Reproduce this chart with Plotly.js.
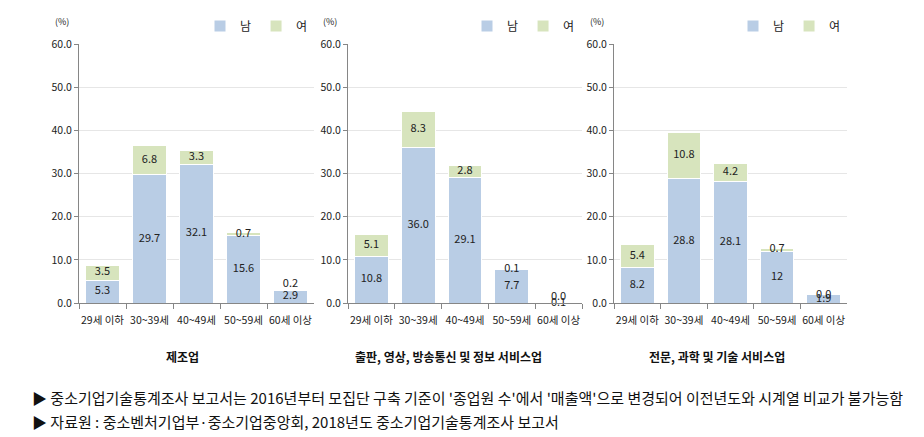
<!DOCTYPE html>
<html>
<head>
<meta charset="utf-8">
<script src="https://cdn.plot.ly/plotly-3.0.1.min.js"></script>
<style>
  body { margin: 0; background: #fff; }
  #chart { width: 924px; height: 437px; }
</style>
</head>
<body>
<div id="chart"></div>
<script>
var ages = ["29세 이하", "30~39세", "40~49세", "50~59세", "60세 이상"];

// 제조업
var maleMfg = [5.3, 29.7, 32.1, 15.6, 2.9];
var femaleMfg = [3.5, 6.8, 3.3, 0.7, 0.2];
// 출판, 영상, 방송통신 및 정보 서비스업
var maleInfo = [10.8, 36.0, 29.1, 7.7, 0.1];
var femaleInfo = [5.1, 8.3, 2.8, 0.1, 0.0];
// 전문, 과학 및 기술 서비스업
var maleSci = [8.2, 28.8, 28.1, 12, 1.9];
var femaleSci = [5.4, 10.8, 4.2, 0.7, 0.0];
var maleSciLabels = ["8.2", "28.8", "28.1", "12", "1.9"];

// 여 label placed above the bar when it does not fit (as in the source)
var femaleAboveMfg = [false, false, false, false, true];
var femaleAboveInfo = [false, false, false, false, true];
var femaleAboveSci = [false, false, false, false, false];

var panelTitles = ["제조업", "출판, 영상, 방송통신 및 정보 서비스업", "전문, 과학 및 기술 서비스업"];
var notes = [
  "▶ 중소기업기술통계조사 보고서는 2016년부터 모집단 구축 기준이 '종업원 수'에서 '매출액'으로 변경되어 이전년도와 시계열 비교가 불가능함",
  "▶ 자료원 : 중소벤처기업부·중소기업중앙회, 2018년도 중소기업기술통계조사 보고서"
];

var maleColor = "#B9CDE5";
var femaleColor = "#D7E4BD";
var font = "Noto Sans CJK KR, Noto Sans, sans-serif";

function fmt(arr) {
  return arr.map(function(v){ return v.toFixed(1); });
}
function sfx(n) { return n === 1 ? "" : String(n); }

function barTrace(name, vals, color, n) {
  return {
    type: "bar",
    name: name,
    x: ages,
    y: vals,
    marker: {color: color, line: {color: "#ffffff", width: 1}},
    xaxis: "x" + sfx(n),
    yaxis: "y" + sfx(n),
    legend: "legend" + sfx(n),
    hoverinfo: "x+y+name"
  };
}

function labelTrace(male, female, maleLabels, above, n) {
  var xs = [], ys = [], txt = [], pos = [];
  for (var i = 0; i < ages.length; i++) {
    xs.push(ages[i]); ys.push(male[i] / 2); txt.push(maleLabels[i]); pos.push("middle center");
    xs.push(ages[i]);
    if (above[i]) { ys.push(male[i] + female[i]); pos.push("top center"); }
    else { ys.push(male[i] + female[i] / 2); pos.push("middle center"); }
    txt.push(female[i].toFixed(1));
  }
  return {
    type: "scatter", mode: "text",
    x: xs, y: ys, text: txt, textposition: pos,
    textfont: {size: 11, color: "#222", family: font},
    cliponaxis: false, showlegend: false, hoverinfo: "skip",
    xaxis: "x" + sfx(n), yaxis: "y" + sfx(n)
  };
}

var data = [
  barTrace("남", maleMfg, maleColor, 1),
  barTrace("여", femaleMfg, femaleColor, 1),
  barTrace("남", maleInfo, maleColor, 2),
  barTrace("여", femaleInfo, femaleColor, 2),
  barTrace("남", maleSci, maleColor, 3),
  barTrace("여", femaleSci, femaleColor, 3),
  labelTrace(maleMfg, femaleMfg, fmt(maleMfg), femaleAboveMfg, 1),
  labelTrace(maleInfo, femaleInfo, fmt(maleInfo), femaleAboveInfo, 2),
  labelTrace(maleSci, femaleSci, maleSciLabels, femaleAboveSci, 3)
];

var xDomains = [[79/924, 314/924], [348/924, 582/924], [614/924, 847/924]];
var yDomain = [134/437, 393/437];

function xAxis(i) {
  return {
    domain: xDomains[i],
    anchor: "y" + sfx(i + 1),
    type: "category",
    showline: true, linecolor: "#868686", linewidth: 1,
    ticks: "outside", tickson: "boundaries", ticklen: 5, tickcolor: "#868686",
    tickangle: 0, ticklabelstandoff: 7,
    tickfont: {size: 10.5, color: "#222", family: font},
    showgrid: false, fixedrange: true, automargin: false
  };
}
function yAxis(i) {
  return {
    domain: yDomain,
    anchor: "x" + sfx(i + 1),
    range: [0, 60], dtick: 10, tickformat: ".1f",
    showline: true, linecolor: "#868686", linewidth: 1,
    ticks: "outside", ticklen: 4, tickcolor: "#868686",
    gridcolor: "#E6E6E6", gridwidth: 1,
    zeroline: false,
    tickfont: {size: 10.5, color: "#222", family: font},
    fixedrange: true, automargin: false
  };
}

function legendAt(x) {
  return {
    orientation: "h", x: x, y: 1 - 26/437, xanchor: "right", yanchor: "middle",
    traceorder: "normal",
    font: {size: 12, color: "#222", family: font},
    bgcolor: "rgba(0,0,0,0)", itemwidth: 30, tracegroupgap: 0
  };
}

var annotations = [];
var titleX = [182, 448, 717];
var pctX = [62, 330, 597];
for (var i = 0; i < 3; i++) {
  annotations.push({
    xref: "paper", yref: "paper", x: titleX[i] / 924, y: 1 - 356/437,
    text: "<b>" + panelTitles[i] + "</b>", showarrow: false,
    xanchor: "center", yanchor: "middle",
    font: {size: 12, color: "#111", family: font}
  });
  annotations.push({
    xref: "paper", yref: "paper", x: pctX[i] / 924, y: 1 - 22/437,
    text: "(%)", showarrow: false, xanchor: "center", yanchor: "middle",
    font: {size: 9, color: "#222", family: font}
  });
}
annotations.push({
  xref: "paper", yref: "paper", x: 30/924, y: 1 - 397/437,
  text: notes[0], showarrow: false, xanchor: "left", yanchor: "middle",
  font: {size: 15, color: "#111", family: font}
});
annotations.push({
  xref: "paper", yref: "paper", x: 30/924, y: 1 - 421/437,
  text: notes[1], showarrow: false, xanchor: "left", yanchor: "middle",
  font: {size: 15, color: "#111", family: font}
});

var layout = {
  width: 924, height: 437,
  margin: {l: 0, r: 0, t: 0, b: 0},
  paper_bgcolor: "#ffffff", plot_bgcolor: "#ffffff",
  barmode: "stack", bargap: 0.28,
  font: {family: font, color: "#222"},
  xaxis: xAxis(0), yaxis: yAxis(0),
  xaxis2: xAxis(1), yaxis2: yAxis(1),
  xaxis3: xAxis(2), yaxis3: yAxis(2),
  legend: legendAt(313/924),
  legend2: legendAt(580/924),
  legend3: legendAt(846/924),
  annotations: annotations,
  showlegend: true
};

Plotly.newPlot("chart", data, layout, {displayModeBar: false, staticPlot: true});
</script>
</body>
</html>
